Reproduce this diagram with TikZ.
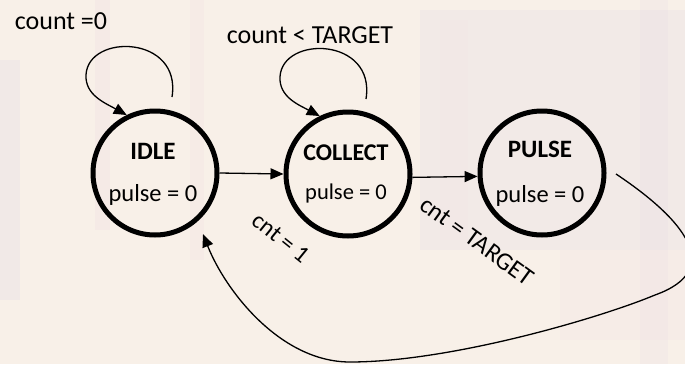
\documentclass[tikz,border=0pt]{standalone}
\usepackage{fontspec}
\setmainfont{Carlito}
\usetikzlibrary{arrows.meta,calc}

\definecolor{paper}{RGB}{248,240,232}
\definecolor{haze}{RGB}{228,218,230}
\definecolor{blush}{RGB}{242,224,228}

\tikzset{
  state/.style={circle,draw=black,line width=5pt,minimum size=124pt,inner sep=0pt},
  statename/.style={font=\bfseries\fontsize{25}{28}\selectfont,inner sep=0pt},
  stateout/.style={font=\fontsize{24.5}{28}\selectfont,inner sep=0pt},
  guard/.style={font=\fontsize{26}{30}\selectfont,inner sep=0pt},
  edge/.style={line width=1.3pt,-{Triangle[length=13pt,width=11pt]}}
}

\begin{document}
\begin{tikzpicture}[x=1pt,y=-1pt]
  % page and a faint backdrop of vertical bands
  \useasboundingbox (0,0) rectangle (685,364);
  \fill[paper] (0,0) rectangle (685,364);
  \begin{scope}
    \clip (0,0) rectangle (685,364);
    \fill[haze,opacity=0.3] (0,60) rectangle (20,300);
    \fill[blush,opacity=0.35] (95,0) rectangle (110,230);
    \fill[blush,opacity=0.25] (190,0) rectangle (204,260);
    \fill[haze,opacity=0.25] (420,10) rectangle (685,250);
    \fill[blush,opacity=0.2] (440,20) rectangle (468,240);
    \fill[haze,opacity=0.2] (640,0) rectangle (668,364);
    \fill[blush,opacity=0.2] (560,250) rectangle (685,340);
  \end{scope}

  % states
  \node[state] (idle)    at (155,173) {};
  \node[state] (collect) at (348,174) {};
  \node[state] (pulse)   at (542,173) {};

  \node[statename] (idleName)    at (153,151) {IDLE};
  \node[stateout]  (idleOut)     at (153,195) {pulse = 0};
  \node[statename,font=\bfseries\fontsize{24}{28}\selectfont] (collectName) at (346,153) {COLLECT};
  \node[stateout,font=\fontsize{22.5}{26}\selectfont] (collectOut) at (346,193) {pulse = 0};
  \node[statename] (pulseName)   at (540,149) {PULSE};
  \node[stateout]  (pulseOut)    at (540,196) {pulse = 0};

  % free ends of the connectors
  \coordinate (idleLoop)    at (172,97);
  \coordinate (collectLoop) at (366,99);
  \coordinate (pulseExit)   at (616,174);
  \coordinate (idleReturn)  at (203,234);

  % self loops
  \draw[edge] (idleLoop) .. controls (182,35) and (88,33) .. (86,75)
              .. controls (85,95) and (105,103) .. (idle.116);
  \draw[edge] (collectLoop) .. controls (376,37) and (282,35) .. (280,77)
              .. controls (279,97) and (299,105) .. (collect.116);

  % forward transitions
  \draw[edge] (idle.east) -- (collect.west);
  \draw[edge] (collect.-3) -- (pulse.183);

  % return from PULSE to IDLE, partly leaving the page on the right
  \begin{scope}
    \clip (0,0) rectangle (685,364);
    \draw[edge] (pulseExit) .. controls (685,220) and (725,270) .. (655,295)
                .. controls (600,318) and (450,362) .. (350,362)
                .. controls (280,362) and (225,290) .. (idleReturn);
  \end{scope}

  % guards
  \node[guard] (guardIdle)    at (61,21)  {count =0};
  \node[guard] (guardCollect) at (310,35) {count < TARGET};
  \node[guard,rotate=-39,font=\fontsize{24}{28}\selectfont] (guardStart) at (281,238) {cnt = 1};
  \node[guard,rotate=-36,font=\fontsize{25}{28}\selectfont] (guardDone)  at (477,241) {cnt = TARGET};
\end{tikzpicture}
\end{document}
